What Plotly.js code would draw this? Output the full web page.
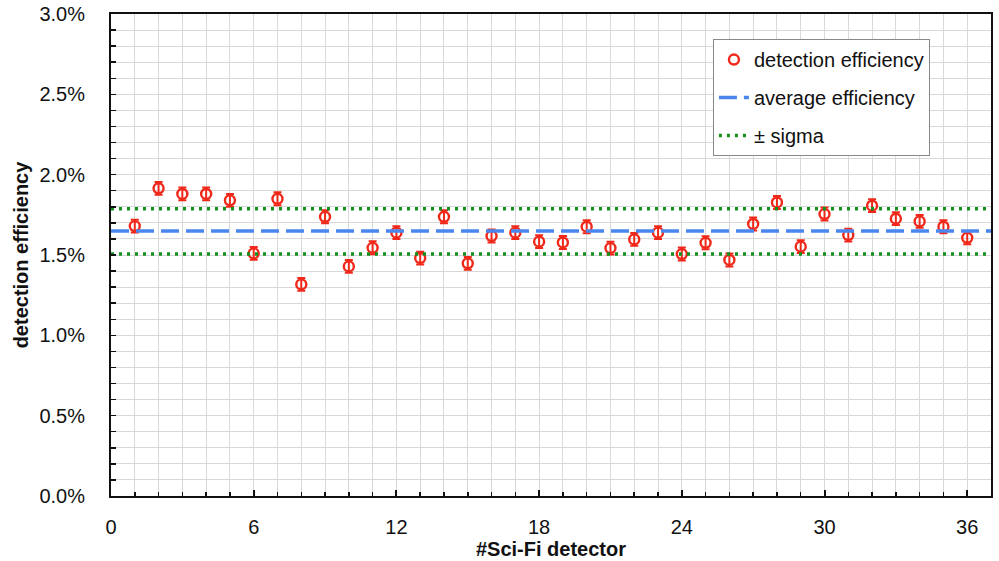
<!DOCTYPE html>
<html>
<head>
<meta charset="utf-8">
<script src="https://cdn.plot.ly/plotly-3.0.1.min.js"></script>
<style>html,body{margin:0;padding:0;background:#fff;}#chart{width:999px;height:561px;}</style>
</head>
<body>
<div id="chart"></div>
<script>
// Data (efficiency in %)
const detectors = [1,2,3,4,5,6,7,8,9,10,11,12,13,14,15,16,17,18,19,20,21,22,23,24,25,26,27,28,29,30,31,32,33,34,35,36];
const efficiency = [1.68,1.915,1.88,1.88,1.84,1.51,1.85,1.317,1.738,1.429,1.545,1.639,
                    1.481,1.738,1.448,1.618,1.639,1.583,1.578,1.676,1.543,1.597,1.639,1.506,
                    1.576,1.469,1.693,1.827,1.552,1.755,1.624,1.807,1.726,1.709,1.676,1.607];
const efficiencyErr = [0.04,0.04,0.04,0.04,0.04,0.04,0.04,0.04,0.04,0.04,0.04,0.04,
                       0.04,0.04,0.04,0.04,0.04,0.04,0.04,0.04,0.04,0.04,0.04,0.04,
                       0.04,0.04,0.04,0.04,0.04,0.04,0.04,0.04,0.04,0.04,0.04,0.04];
const lineX = [0, 37];
const averageEff = [1.649, 1.649];
const sigmaUpper = [1.788, 1.788];
const sigmaLower = [1.506, 1.506];

const red = '#f0281a';
const traces = [
  {x: detectors, y: efficiency, type: 'scatter', mode: 'markers', name: 'detection efficiency', legendgroup: 'a',
   marker: {symbol: 'circle-open', size: 10, color: red, line: {width: 2.4, color: red}},
   error_y: {type: 'data', array: efficiencyErr, visible: true, color: red, thickness: 2, width: 4}},
  {x: lineX, y: averageEff, type: 'scatter', mode: 'lines', name: 'average efficiency', legendgroup: 'b',
   line: {color: '#4a86ee', width: 3.5, dash: '18px,7px'}},
  {x: lineX, y: sigmaUpper, type: 'scatter', mode: 'lines', name: '± sigma', legendgroup: 'c',
   line: {color: '#14901e', width: 3.5, dash: '3px,5px'}},
  {x: lineX, y: sigmaLower, type: 'scatter', mode: 'lines', name: '± sigma', legendgroup: 'c', showlegend: false,
   line: {color: '#14901e', width: 3.5, dash: '3px,5px'}}
];

const font = 'Liberation Sans, Arial, sans-serif';
const layout = {
  width: 999, height: 561,
  margin: {l: 111, r: 8, t: 14, b: 65},
  paper_bgcolor: '#ffffff', plot_bgcolor: '#ffffff',
  font: {family: font, size: 20, color: '#111'},
  showlegend: true,
  legend: {x: 0.684, y: 0.948, xanchor: 'left', yanchor: 'top',
           bgcolor: '#ffffff', bordercolor: '#888', borderwidth: 1,
           font: {family: font, size: 20, color: '#111'}, tracegroupgap: 9, itemwidth: 30},
  xaxis: {range: [0, 37], tickmode: 'linear', tick0: 0, dtick: 6,
          ticks: 'inside', ticklen: 6, tickwidth: 2, tickcolor: '#111',
          showline: true, linewidth: 2, linecolor: '#111', mirror: true,
          showgrid: true, gridcolor: '#d8d8d8', gridwidth: 1, zeroline: false,
          ticklabelstandoff: 12,
          tickfont: {family: font, size: 20, color: '#111'},
          minor: {dtick: 1, ticks: 'inside', ticklen: 4, tickwidth: 1.5, tickcolor: '#111', showgrid: true, gridcolor: '#d8d8d8', gridwidth: 1},
          title: {text: '<b>#Sci-Fi detector</b>', font: {family: font, size: 20, color: '#111'}, standoff: 4}},
  yaxis: {range: [0, 3.0], tickmode: 'linear', tick0: 0, dtick: 0.5,
          tickformat: '.1f', ticksuffix: '%',
          ticks: 'inside', ticklen: 5, tickwidth: 1.5, tickcolor: '#111',
          showline: true, linewidth: 2, linecolor: '#111', mirror: true,
          showgrid: true, gridcolor: '#d8d8d8', gridwidth: 1, zeroline: false,
          ticklabelstandoff: 20,
          tickfont: {family: font, size: 20, color: '#111'},
          minor: {dtick: 0.1, ticks: 'inside', ticklen: 5, tickwidth: 1.5, tickcolor: '#111', showgrid: true, gridcolor: '#d8d8d8', gridwidth: 1},
          title: {text: '<b>detection efficiency</b>', font: {family: font, size: 20, color: '#111'}, standoff: 5}}
};

Plotly.newPlot('chart', traces, layout, {displayModeBar: false, staticPlot: true});
</script>
</body>
</html>
